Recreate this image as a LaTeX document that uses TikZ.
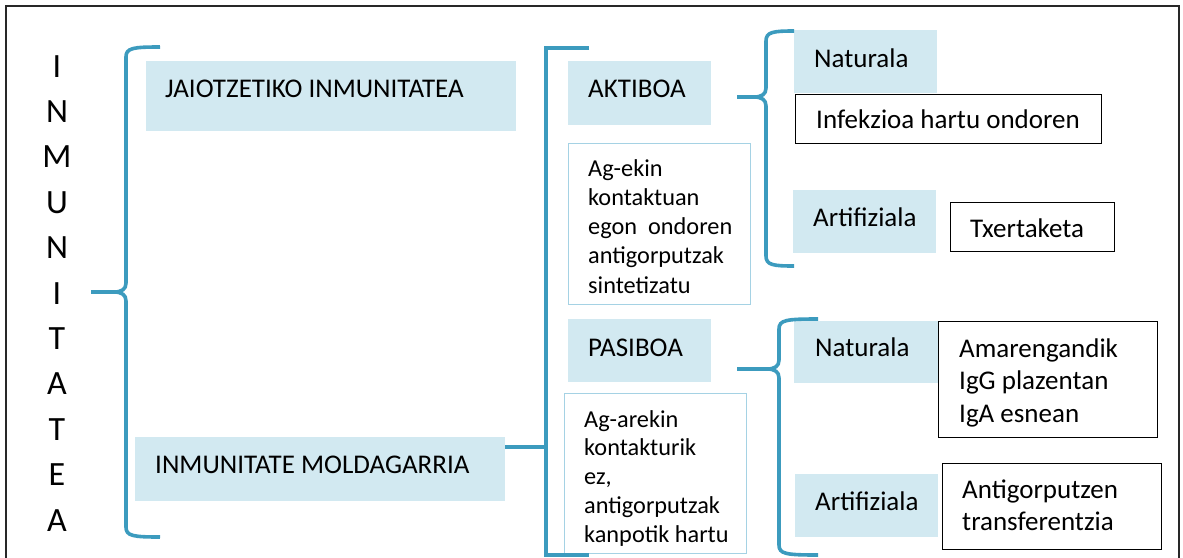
\documentclass[tikz,border=0pt]{standalone}
\usepackage{fontspec}
\setmainfont{Carlito}
\definecolor{braceblue}{RGB}{60,155,190}
\definecolor{boxfill}{RGB}{210,233,241}
\definecolor{boxedge}{RGB}{165,210,228}
\definecolor{framegray}{RGB}{40,40,40}
% curly brace: tip x, tip y, spine x, top y, bottom y, end x
\newcommand\curlybrace[6]{%
  \draw[brace] (#6,#4) .. controls (#3+7,#4) and (#3,#4+1) .. (#3,#4+10)
    -- (#3,#2-9) .. controls (#3,#2-3) and (#3-4,#2) .. (#3-12,#2) -- (#1,#2);
  \draw[brace] (#1,#2) -- (#3-12,#2) .. controls (#3-4,#2) and (#3,#2+3) .. (#3,#2+9)
    -- (#3,#5-10) .. controls (#3,#5-1) and (#3+7,#5) .. (#6,#5);}
\tikzset{
  brace/.style={draw=braceblue, line width=3.6pt},
  softbox/.style={fill=boxfill, draw=none, anchor=north west, inner sep=0pt},
  notebox/.style={fill=white, draw=boxedge, line width=1.2pt, anchor=north west, inner sep=0pt},
  darkbox/.style={fill=white, draw=black, line width=1.4pt, anchor=north west, inner sep=0pt},
  txt/.style={anchor=base west, inner sep=0pt, align=left, font=\fontsize{27}{29}\selectfont},
  smalltxt/.style={txt, font=\fontsize{24.3}{29.2}\selectfont},
}
\begin{document}
\begin{tikzpicture}[x=1pt, y=-1pt]
\useasboundingbox (0,0) rectangle (1183,557);
% outer frame, open at the bottom
\draw[framegray, line width=1.3pt] (6,562) -- (6,6) -- (1179,6) -- (1179,562);

% title set letter by letter down the left side (anchored on its last line)
\node[anchor=base, inner sep=0pt, align=center, font=\fontsize{34}{45.4}\selectfont] (title) at (57,531)
  {I\\N\\M\\U\\N\\I\\T\\A\\T\\E\\A};

% first level
\node[softbox, minimum width=370, minimum height=70] (jaio) at (146,61) {};
\node[txt] (jaiot) at (165,97) {JAIOTZETIKO INMUNITATEA};
\node[softbox, minimum width=370, minimum height=64] (mold) at (135,437) {};
\node[txt] (moldt) at (155,473) {INMUNITATE MOLDAGARRIA};

% second level
\node[softbox, minimum width=143, minimum height=64] (akt) at (568,61) {};
\node[txt] (aktt) at (588,97) {AKTIBOA};
\node[notebox, minimum width=182, minimum height=161] (agekin) at (568,143) {};
\node[smalltxt] (agekint) at (588,293) {Ag-ekin\\kontaktuan\\egon~~ondoren\\antigorputzak\\sintetizatu};
\node[softbox, minimum width=143, minimum height=63] (pas) at (568,319) {};
\node[txt] (past) at (588,356) {PASIBOA};
\node[notebox, minimum width=182, minimum height=160] (agarekin) at (564,393) {};
\begin{scope}
  \clip (565,394) rectangle (745,551);
  \node[smalltxt, font=\fontsize{24.3}{28.7}\selectfont] (agarekint) at (584,542) {Ag-arekin\\kontakturik\\ez,\\antigorputzak\\kanpotik hartu};
\end{scope}

% third level, active branch
\node[softbox, minimum width=143, minimum height=63] (nat1) at (794,30) {};
\node[txt] (nat1t) at (814,67) {Naturala};
\node[darkbox, minimum width=306, minimum height=49] (infek) at (795,94) {};
\node[txt] (infekt) at (816,128) {Infekzioa hartu ondoren};
\node[softbox, minimum width=143, minimum height=63] (art1) at (793,190) {};
\node[txt] (art1t) at (813,226) {Artifiziala};
\node[darkbox, minimum width=164, minimum height=49] (txert) at (950,202) {};
\node[txt] (txertt) at (970,237) {Txertaketa};

% third level, passive branch
\node[softbox, minimum width=144, minimum height=62] (nat2) at (794,321) {};
\node[txt] (nat2t) at (815,356) {Naturala};
\node[darkbox, minimum width=219, minimum height=116] (amar) at (938,321) {};
\node[txt, font=\fontsize{27}{32.5}\selectfont] (amart) at (959,422) {Amarengandik\\IgG plazentan\\IgA esnean};
\node[softbox, minimum width=143, minimum height=63] (art2) at (795,474) {};
\node[txt] (art2t) at (815,510) {Artifiziala};
\node[darkbox, minimum width=219, minimum height=86] (antig) at (942,463) {};
\node[txt, font=\fontsize{27}{32}\selectfont] (antigt) at (962,530) {Antigorputzen\\transferentzia};

% braces
\coordinate (tip0) at (91,292);
\curlybrace{91}{292}{126}{47}{537}{160}
\coordinate (tip1) at (737,97);
\curlybrace{737}{97}{766}{31}{266}{794}
\coordinate (tip2) at (737,369);
\curlybrace{737}{369}{779}{319}{555}{818}

% square bracket for the adaptive branch
\coordinate (sqtop) at (589,48);
\coordinate (sqbot) at (589,555);
\coordinate (sqmid) at (546,447);
\draw[brace] (sqtop) -- (546,48) -- (546,555) -- (sqbot);
\draw[brace] (mold.east |- sqmid) -- (sqmid);
\end{tikzpicture}
\end{document}
